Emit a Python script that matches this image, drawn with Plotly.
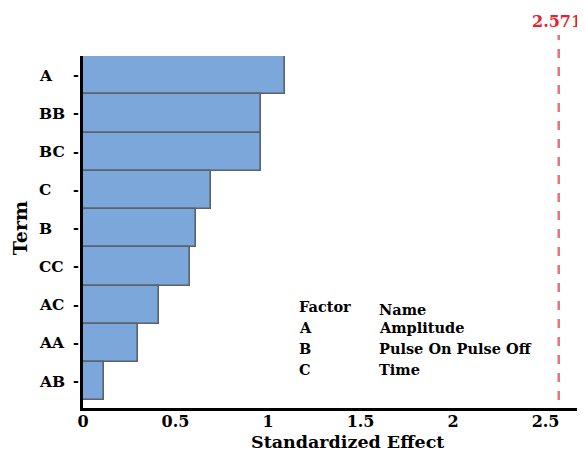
import plotly.graph_objects as go

terms = ["A", "BB", "BC", "C", "B", "CC", "AC", "AA", "AB"]
effects = [1.092, 0.962, 0.960, 0.692, 0.611, 0.578, 0.411, 0.297, 0.114]
x_ticks = [0, 0.5, 1, 1.5, 2, 2.5]
x_tick_text = ["0", "0.5", "1", "1.5", "2", "2.5"]
critical_value = 2.571
factors = ["A", "B", "C"]
factor_names = ["Amplitude", "Pulse On Pulse Off", "Time"]

FONT = "DejaVu Serif"

fig = go.Figure()
fig.add_trace(go.Bar(
    y=terms, x=effects, orientation="h", width=1,
    marker=dict(color="#7ba7da", line=dict(color="#5a626b", width=1.6)),
))

fig.add_shape(type="line", xref="x", yref="paper",
              x0=critical_value, x1=critical_value, y0=0.023, y1=1.06,
              line=dict(color="#e8737b", width=2.5, dash="dash"))

annotations = []
annotations.append(dict(text="<b>%g</b>" % critical_value, x=2.562, xref="x",
                        y=1.097, yref="paper", yanchor="middle", showarrow=False,
                        font=dict(family=FONT, size=16, color="#e8202e")))
for t in terms:
    annotations.append(dict(text="<b>%s</b>" % t, x=-0.0916, xref="paper", y=t, yref="y",
                            xanchor="left", showarrow=False,
                            font=dict(family=FONT, size=15.5, color="black")))
    annotations.append(dict(text="<b>-</b>", x=-0.0145, xref="paper", y=t, yref="y",
                            xanchor="center", showarrow=False,
                            font=dict(family=FONT, size=14, color="black")))
lines_y = [0.259, 0.198, 0.140, 0.080]
col1 = ["Factor"] + factors
col2 = ["Name"] + factor_names
for i in range(4):
    annotations.append(dict(text="<b>%s</b>" % col1[i], x=1.157, xref="x", y=lines_y[i], yref="paper",
                            xanchor="left", showarrow=False,
                            font=dict(family=FONT, size=14.5, color="black")))
    annotations.append(dict(text="<b>%s</b>" % col2[i], x=1.589, xref="x",
                            y=lines_y[i] - (0.008 if i == 0 else 0), yref="paper",
                            xanchor="left", showarrow=False,
                            font=dict(family=FONT, size=14.5, color="black")))
annotations.append(dict(text="<b>Standardized Effect</b>", x=1.432, xref="x", y=-0.098, yref="paper",
                        yanchor="middle", showarrow=False,
                        font=dict(family=FONT, size=17.5, color="black")))
annotations.append(dict(text="<b>Term</b>", x=-0.1255, xref="paper", y=0.511, yref="paper",
                        textangle=-90, xanchor="center", yanchor="middle", showarrow=False,
                        font=dict(family=FONT, size=19, color="black")))

fig.update_layout(
    width=585, height=452,
    margin=dict(l=75, r=8, t=48, b=52),
    plot_bgcolor="white", paper_bgcolor="white",
    showlegend=False,
    bargap=0,
    annotations=annotations,
    xaxis=dict(range=[0, 2.713], tickvals=x_ticks, ticktext=["<b>%s</b>" % s for s in x_tick_text],
               showgrid=False, zeroline=False, showline=True, linecolor="black", linewidth=3,
               ticks="", automargin=False, ticklabelstandoff=-3,
               tickfont=dict(family=FONT, size=16, color="black")),
    yaxis=dict(categoryorder="array", categoryarray=terms, range=[8.7, -0.5],
               showgrid=False, zeroline=False, showline=True, linecolor="black", linewidth=3,
               ticks="", showticklabels=False, automargin=False),
)

fig.write_html("out.html")
